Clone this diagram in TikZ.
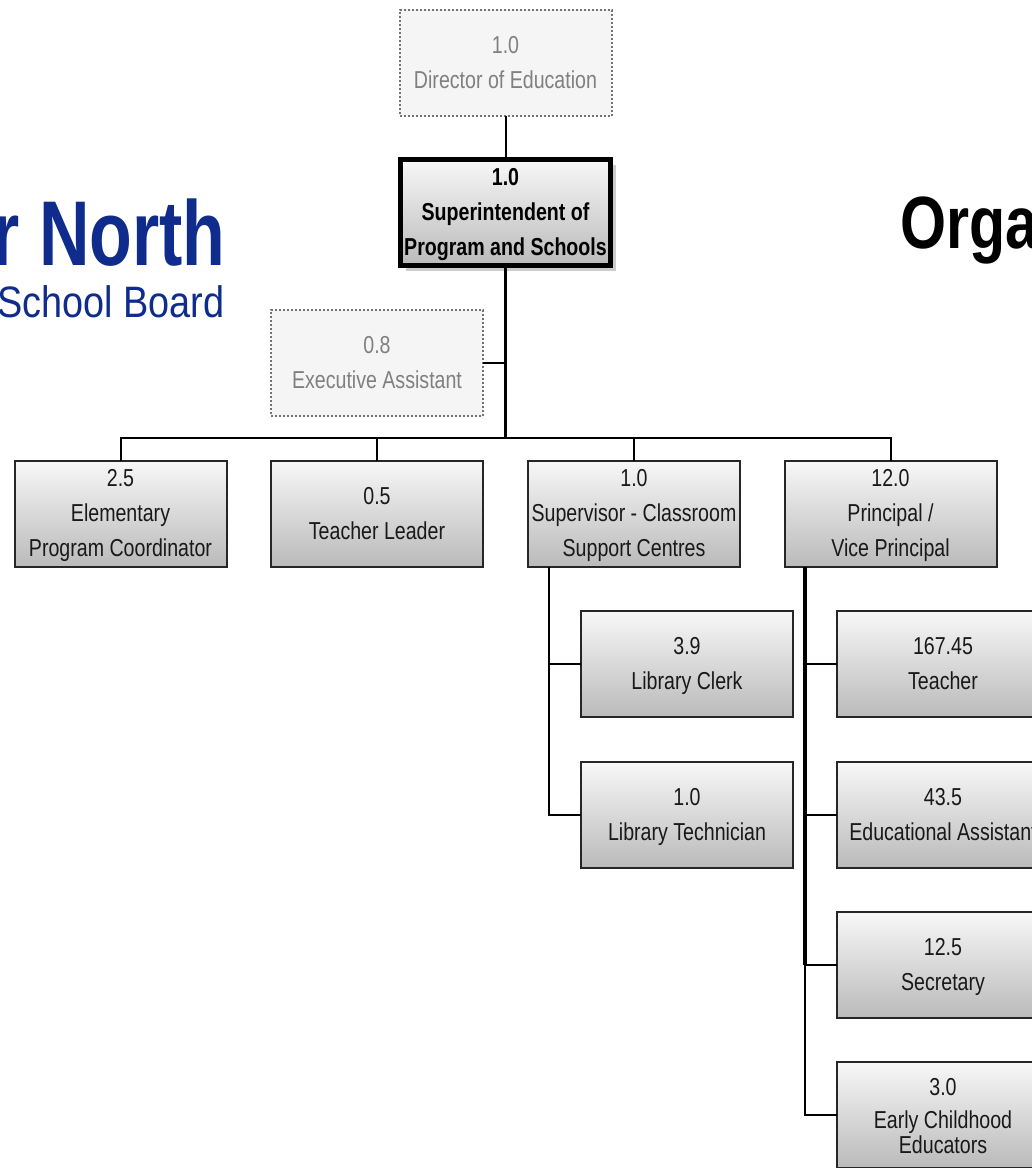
\documentclass[tikz,border=0pt]{standalone}
\usepackage{fontspec}
\setmainfont[FakeStretch=0.8]{Liberation Sans}
\newfontfamily\logofont[FakeStretch=0.86]{Liberation Sans}
\newfontfamily\namefont[FakeStretch=0.76]{Liberation Sans}
\usetikzlibrary{shadows}
\definecolor{logoblue}{HTML}{0F2C8C}
\newcommand{\orgtop}{\rule{0pt}{12pt}}
\newcommand{\orgbot}{\rule[-4pt]{0pt}{4pt}}
\tikzset{
    orgbox/.style={draw=black!85, line width=1pt, top color=black!3, bottom color=black!27, minimum width=106pt, minimum height=53pt, inner sep=0pt, outer sep=0pt, align=center, font=\fontsize{12.25}{17.5}\selectfont, text=black!90, execute at end node=\orgbot},
    ghostbox/.style={orgbox, draw=black!55, densely dotted, top color=black!4, bottom color=black!4, text=black!50},
    headbox/.style={orgbox, draw=black, line width=2.6pt, font=\fontsize{12.25}{17.5}\selectfont\bfseries, text=black, drop shadow={shadow xshift=2.5pt, shadow yshift=-2.5pt, opacity=0.4}},
    thinline/.style={black, line width=1pt},
    fatline/.style={black, line width=1.6pt}
}
\begin{document}
\begin{tikzpicture}[x=0.5pt, y=-0.5pt]
    \clip (0,0) rectangle (1032,1168);
    \node[text=logoblue, anchor=base east, inner sep=0pt, font=\namefont\fontsize{46}{46}\selectfont\bfseries] (logoname) at (226,265) {r North};
    \node[text=logoblue, anchor=base east, inner sep=0pt, font=\logofont\fontsize{22}{22}\selectfont] (logosub) at (225,317) {School Board};
    \node[text=black, anchor=base west, inner sep=0pt, font=\fontsize{37}{37}\selectfont\bfseries] (title) at (900,248) {Orga};

    \node[ghostbox] (director) at (505.5,62.5) {\orgtop 1.0\\Director of Education};
    \node[headbox, minimum width=105pt, minimum height=53pt] (super) at (505.5,212.5) {\orgtop 1.0\\Superintendent of\\Program and Schools};
    \node[ghostbox] (exec) at (377,363) {\orgtop 0.8\\Executive Assistant};

    \node[orgbox] (elem) at (120.5,513.5) {\orgtop 2.5\\Elementary\\Program Coordinator};
    \node[orgbox] (leader) at (377,513.5) {\orgtop 0.5\\Teacher Leader};
    \node[orgbox] (clsup) at (634,513.5) {\orgtop 1.0\\Supervisor - Classroom\\Support Centres};
    \node[orgbox] (princ) at (890.5,513.5) {\orgtop 12.0\\Principal /\\Vice Principal};

    \node[orgbox] (clerk) at (687,664) {\orgtop 3.9\\Library Clerk};
    \node[orgbox] (tech) at (687,815) {\orgtop 1.0\\Library Technician};

    \node[orgbox] (teacher) at (943,664) {\orgtop 167.45\\Teacher};
    \node[orgbox] (assist) at (943,815) {\orgtop 43.5\\Educational Assistant};
    \node[orgbox] (secretary) at (943,965) {\orgtop 12.5\\Secretary};
    \node[orgbox] (early) at (943,1115) {\rule{0pt}{13.8pt}3.0\\[-1pt]Early Childhood\\[-5pt]Educators};

    \coordinate (busmid) at (505.5,438);
    \coordinate (clsuptrunk) at (549,567);
    \coordinate (princtrunk) at (805,567);

    \draw[thinline] (director.south) -- (super.north);
    \draw[fatline] (super.south) -- (busmid);
    \draw[thinline] (exec.east) -- (exec.east -| busmid);
    \foreach \child in {elem, leader, clsup, princ}
        \draw[thinline] (\child.north) |- (busmid);
    \foreach \child in {clerk, tech}
        \draw[thinline] (clsuptrunk) |- (\child.west);
    \foreach \child in {teacher, assist, secretary}
        \draw[thinline] (princtrunk |- \child.west) -- (\child.west);
    \draw[fatline] (princtrunk) -- (princtrunk |- secretary.west);
    \draw[thinline] (princtrunk) |- (early.west);
\end{tikzpicture}
\end{document}
